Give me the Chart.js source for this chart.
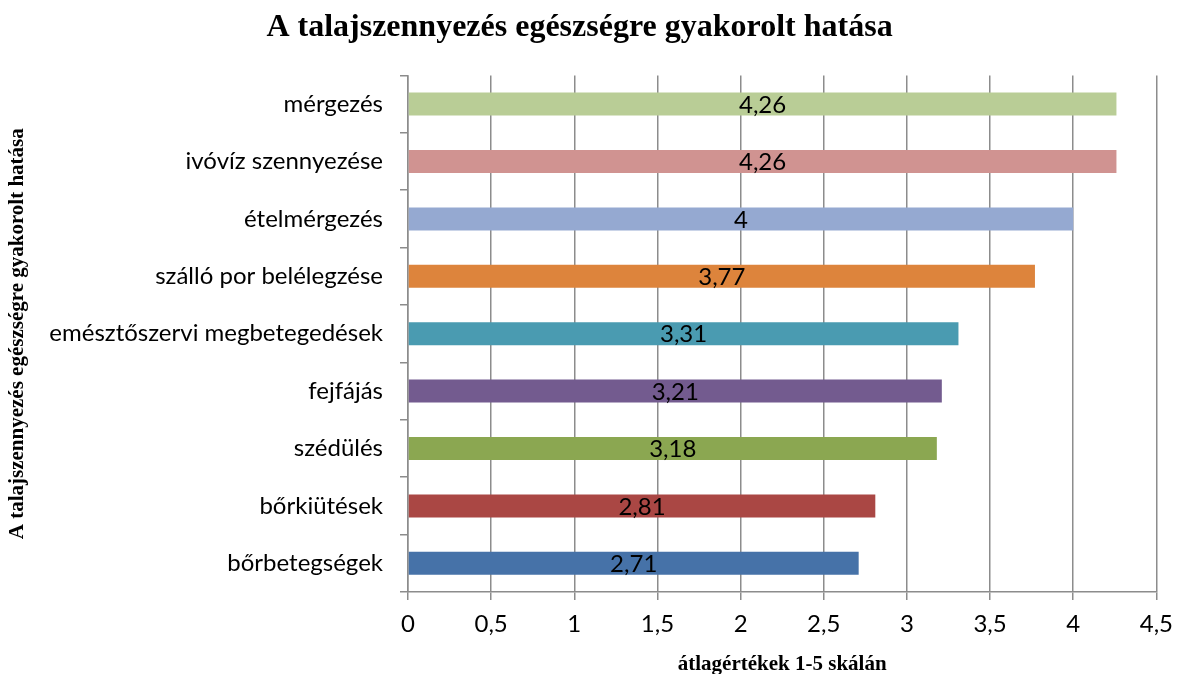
<!DOCTYPE html>
<html>
<head>
<meta charset="utf-8">
<script src="https://cdn.jsdelivr.net/npm/chart.js@4"></script>
<style>
  html, body { margin: 0; padding: 0; background: #fff; }
  #wrap { width: 1183px; height: 674px; }
</style>
</head>
<body>
<div id="wrap"><canvas id="barChart" width="1183" height="674"></canvas></div>
<script>
var categories = ['mérgezés', 'ivóvíz szennyezése', 'ételmérgezés', 'szálló por belélegzése',
  'emésztőszervi megbetegedések', 'fejfájás', 'szédülés', 'bőrkiütések', 'bőrbetegségek'];
var values = [4.26, 4.26, 4, 3.77, 3.31, 3.21, 3.18, 2.81, 2.71];
var barColors = ['#B9CD96', '#D09391', '#95A9D1', '#DD843C', '#4A9BB1', '#735B8F', '#8BA751', '#AA4744', '#4672A8'];

function huNum(v) {
  return String(v).replace('.', ',');
}

// labels drawn in the middle of every bar
var barLabels = {
  id: 'barLabels',
  afterDatasetsDraw: function(chart) {
    var ctx = chart.ctx;
    var meta = chart.getDatasetMeta(0);
    ctx.save();
    ctx.font = '24px Lato';
    ctx.fillStyle = '#000';
    ctx.textAlign = 'center';
    ctx.textBaseline = 'middle';
    meta.data.forEach(function(bar, i) {
      ctx.fillText(huNum(values[i]), (bar.x + bar.base) / 2, bar.y + 1);
    });
    ctx.restore();
  }
};

var ctx = document.getElementById('barChart').getContext('2d');
var barChart = new Chart(ctx, {
  type: 'bar',
  data: {
    labels: categories,
    datasets: [{
      data: values,
      backgroundColor: barColors,
      barPercentage: 0.4,
      categoryPercentage: 1
    }]
  },
  options: {
    indexAxis: 'y',
    responsive: false,
    animation: false,
    layout: {
      padding: { left: 0, right: 24, top: 0, bottom: 0 }
    },
    plugins: {
      legend: { display: false },
      tooltip: { enabled: false },
      title: {
        display: true,
        text: 'A talajszennyezés egészségre gyakorolt hatása',
        color: '#000',
        font: { family: 'Liberation Serif', size: 32, weight: 'bold' },
        padding: { top: 9, bottom: 28 }
      }
    },
    scales: {
      x: {
        min: 0,
        max: 4.5,
        ticks: {
          stepSize: 0.5,
          color: '#000',
          font: { family: 'Lato', size: 24 },
          padding: 10,
          callback: function(v) { return huNum(v); }
        },
        grid: { color: '#8c8c8c', lineWidth: 1.5, tickLength: 8 },
        border: { color: '#8c8c8c', width: 1.5 },
        title: {
          display: true,
          text: 'átlagértékek 1-5 skálán',
          color: '#000',
          font: { family: 'Liberation Serif', size: 21, weight: 'bold', lineHeight: 0.85 },
          padding: { top: 0, bottom: 0 }
        },
        afterFit: function(scale) { scale.height = 82; }
      },
      y: {
        ticks: {
          color: '#000',
          font: { family: 'Lato', size: 24 },
          padding: 17
        },
        grid: { offset: true, drawOnChartArea: false, color: '#8c8c8c', lineWidth: 1.5, tickLength: 8 },
        border: { color: '#8c8c8c', width: 1.5 },
        title: {
          display: true,
          text: 'A talajszennyezés egészségre gyakorolt hatása',
          color: '#000',
          font: { family: 'Liberation Serif', size: 21, weight: 'bold' },
          padding: { top: 5, bottom: 0 }
        },
        afterFit: function(scale) { scale.width = 408; }
      }
    }
  },
  plugins: [barLabels]
});
</script>
</body>
</html>
